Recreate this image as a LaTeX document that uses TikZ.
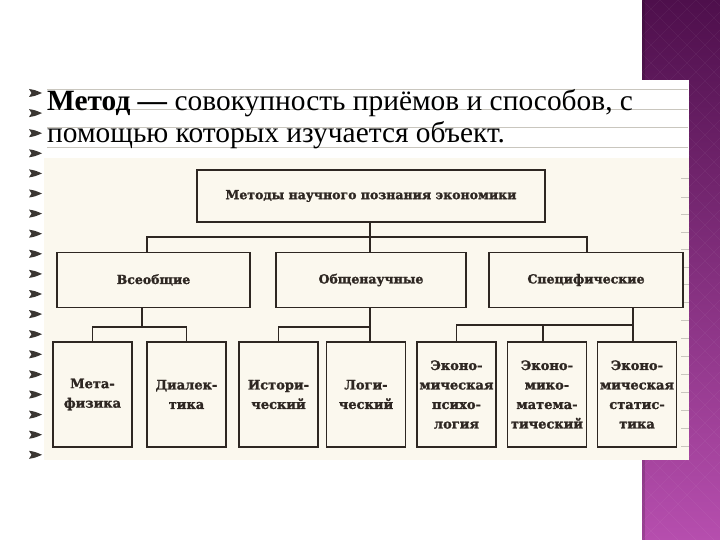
\documentclass[tikz,border=0pt]{standalone}
\usepackage{fontspec}
\setmainfont{Liberation Serif}
\newfontfamily\boxfont[BoldFeatures={FakeBold=1.6}]{DejaVu Serif}
\definecolor{purpTop}{HTML}{4E0F4C}
\definecolor{purpBot}{HTML}{B64EAE}
\definecolor{cream}{HTML}{FBF8EE}
\definecolor{ink}{HTML}{2E2722}
\definecolor{rule}{HTML}{C9C6BE}
\definecolor{marker}{HTML}{3A3632}
\tikzset{
  mbox/.style={draw=ink, line width=1.4pt, fill=cream, inner sep=0pt, align=center,
    font=\boxfont\bfseries\fontsize{12.5}{19.5}\selectfont, text=ink},
  leaf/.style={mbox, minimum width=79pt, minimum height=105pt,
    font=\boxfont\bfseries\fontsize{13}{19.5}\selectfont},
  conn/.style={draw=ink, line width=1.4pt},
}
\begin{document}
\begin{tikzpicture}[x=1pt,y=-1pt]
\useasboundingbox (0,0) rectangle (720,540);
\fill[white] (0,0) rectangle (720,540);
% purple band
\shade[top color=purpTop, bottom color=purpBot] (642,0) rectangle (720,540);
\begin{scope}
\clip (642,0) rectangle (720,540);
\foreach \k in {-30,...,30} {
  \draw[white, opacity=0.05, line width=0.6pt] (642+\k*18,0) -- ++(540,540);
  \draw[white, opacity=0.05, line width=0.6pt] (642+\k*18,0) -- ++(-540,540);
}
\end{scope}
\fill[black, opacity=0.15] (642,0) rectangle (645,540);
% panel
\fill[white] (30,80) rectangle (689,460);
\fill[cream] (44,158) rectangle (689,460);
% ruled lines
\foreach \yy in {89,109,127,147} \draw[rule, line width=0.6pt] (47,\yy) -- (688,\yy);
\foreach \yy in {178,197,214,232,249,267,284,302,320,338,356,374,392,410,428,446} \draw[rule, line width=0.5pt] (681,\yy) -- (689,\yy);
% markers
\foreach \i in {0,...,18} {
  \pgfmathsetmacro{\yy}{93+20.1*\i}
  \fill[marker] (29,\yy-4) .. controls (35,\yy-3) .. (42,\yy) .. controls (35,\yy+3) .. (29,\yy+4) -- (31.5,\yy) -- cycle;
}
% heading text
\node[anchor=base west, inner sep=0pt, font=\fontsize{29.4}{32}\selectfont] (h1) at (47,111) {\textbf{Метод —} совокупность приёмов и способов, с};
\node[anchor=base west, inner sep=0pt, font=\fontsize{29.4}{32}\selectfont] (h2) at (47,143) {помощью которых изучается объект.};
% boxes
\node[mbox, minimum width=348pt, minimum height=52pt] (top) at (371,196) {Методы научного познания экономики};
\node[mbox, minimum width=193pt, minimum height=55pt] (vse) at (153.5,280) {Всеобщие};
\node[mbox, minimum width=190pt, minimum height=55pt] (obs) at (371,280) {Общенаучные};
\node[mbox, minimum width=194pt, minimum height=55pt] (spe) at (586,280) {Специфические};
\node[leaf] (l1) at (92.5,394.5) {Мета-\\физика};
\node[leaf] (l2) at (186.5,394.5) {Диалек-\\тика};
\node[leaf] (l3) at (278.5,394.5) {Истори-\\ческий};
\node[leaf] (l4) at (366,394.5) {Логи-\\ческий};
\node[leaf] (l5) at (456.5,394.5) {Эконо-\\мическая\\психо-\\логия};
\node[leaf] (l6) at (547,394.5) {Эконо-\\мико-\\матема-\\тический};
\node[leaf] (l7) at (637,394.5) {Эконо-\\мическая\\статис-\\тика};
% connectors
\coordinate (b1) at (370,237);
\draw[conn] (top.south -| b1) -- (b1);
\draw[conn] (vse.north -| 147,0) -- (147,237) -- (587,237) -- (spe.north -| 587,0);
\draw[conn] (b1) -- (obs.north -| b1);
\coordinate (b2) at (142,327);
\draw[conn] (vse.south -| b2) -- (b2);
\draw[conn] (l1.north) -- (l1.north |- b2) -- (l2.north |- b2) -- (l2.north);
\coordinate (b3) at (370,327);
\draw[conn] (obs.south -| b3) -- (l4.north -| b3);
\draw[conn] (l3.north) -- (l3.north |- b3) -- (b3);
\coordinate (b4) at (633,325);
\draw[conn] (spe.south -| b4) -- (b4);
\draw[conn] (l5.north) -- (l5.north |- b4) -- (b4);
\draw[conn] (l6.north -| 543,0) -- (543,325);
\draw[conn] (b4) -- (l7.north -| b4);
\end{tikzpicture}
\end{document}
